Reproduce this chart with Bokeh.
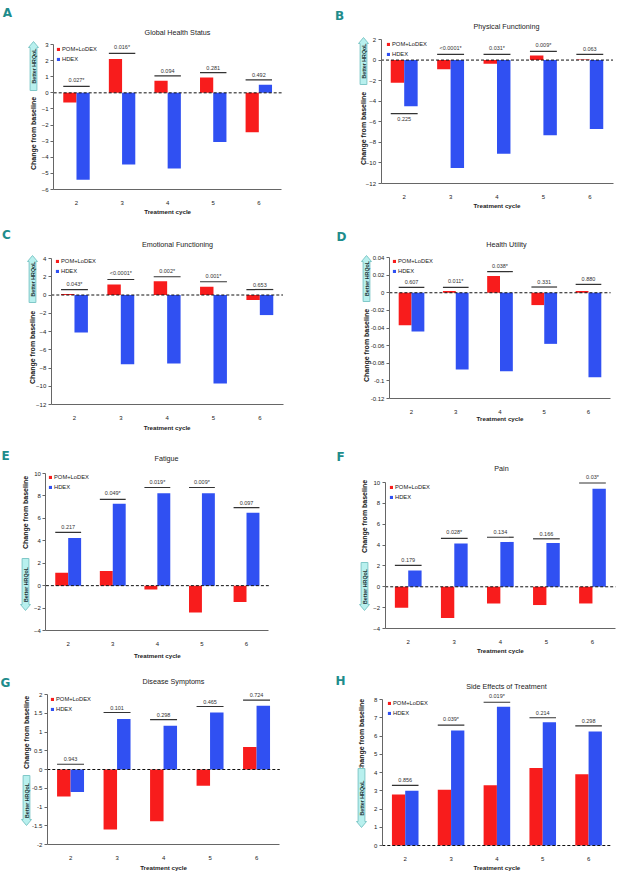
import math
from bokeh.plotting import figure
from bokeh.models import (Range1d, ColumnDataSource, Legend, LegendItem, FixedTicker, LinearAxis)
from bokeh.layouts import column, row
from bokeh.transform import dodge
from bokeh.core.properties import value
from bokeh.embed import file_html
from bokeh.resources import INLINE

# ---------------- data ----------------
cycles = ["2", "3", "4", "5", "6"]
series_names = ["POM+LoDEX", "HDEX"]

titles = ["Global Health Status", "Physical Functioning", "Emotional Functioning",
          "Health Utility", "Fatigue", "Pain", "Disease Symptoms",
          "Side Effects of Treatment"]

pom_A = [-0.6, 2.1, 0.75, 0.95, -2.45]
hdex_A = [-5.4, -4.45, -4.7, -3.05, 0.5]
pval_A = ["0.027*", "0.016*", "0.094", "0.281", "0.492"]
pval_y_A = [0.4, 2.45, 1.05, 1.25, 0.8]

pom_B = [-2.2, -0.9, -0.35, 0.45, 0.05]
hdex_B = [-4.5, -10.5, -9.1, -7.3, -6.7]
pval_B = ["0.225", "<0.0001*", "0.031*", "0.009*", "0.063"]
pval_y_B = [-5.2, 0.55, 0.55, 0.85, 0.55]
pval_below_B = [True, False, False, False, False]

pom_C = [0.1, 1.15, 1.5, 0.9, -0.55]
hdex_C = [-4.1, -7.6, -7.5, -9.7, -2.2]
pval_C = ["0.043*", "<0.0001*", "0.002*", "0.001*", "0.653"]
pval_y_C = [0.6, 1.7, 2.0, 1.45, 0.6]

pom_D = [-0.037, 0.002, 0.019, -0.014, 0.002]
hdex_D = [-0.044, -0.087, -0.089, -0.058, -0.096]
pval_D = ["0.607", "0.011*", "0.038*", "0.331", "0.880"]
pval_y_D = [0.006, 0.006, 0.024, 0.0065, 0.0095]

pom_E = [1.15, 1.3, -0.35, -2.4, -1.45]
hdex_E = [4.25, 7.3, 8.25, 8.25, 6.5]
pval_E = ["0.217", "0.049*", "0.019*", "0.009*", "0.097"]
pval_y_E = [4.75, 7.7, 8.75, 8.75, 6.95]

pom_F = [-2.0, -3.0, -1.6, -1.75, -1.6]
hdex_F = [1.55, 4.15, 4.3, 4.2, 9.4]
pval_F = ["0.179", "0.028*", "0.134", "0.166", "0.03*"]
pval_y_F = [2.05, 4.65, 4.75, 4.6, 9.95]

pom_G = [-0.72, -1.6, -1.38, -0.43, 0.6]
hdex_G = [-0.6, 1.35, 1.17, 1.52, 1.7]
pval_G = ["0.943", "0.101", "0.298", "0.465", "0.724"]
pval_y_G = [0.14, 1.52, 1.33, 1.68, 1.85]

pom_H = [2.8, 3.05, 3.3, 4.25, 3.9]
hdex_H = [3.0, 6.3, 7.6, 6.75, 6.25]
pval_H = ["0.856", "0.039*", "0.019*", "0.214", "0.298"]
pval_y_H = [3.3, 6.6, 7.85, 7.0, 6.55]

ticks_A = [-6, -5, -4, -3, -2, -1, 0, 1, 2, 3]
ticks_B = [-12, -10, -8, -6, -4, -2, 0, 2]
ticks_C = [-12, -10, -8, -6, -4, -2, 0, 2, 4]
ticks_D = [-0.12, -0.1, -0.08, -0.06, -0.04, -0.02, 0, 0.02, 0.04]
tick_labels_D = ["-0.12", "-0.1", "-0.08", "-0.06", "-0.04", "-0.02", "0", "0.02", "0.04"]
ticks_E = [-4, -2, 0, 2, 4, 6, 8, 10]
ticks_F = [-4, -2, 0, 2, 4, 6, 8, 10]
ticks_G = [-2, -1.5, -1, -0.5, 0, 0.5, 1, 1.5, 2]
tick_labels_G = ["-2", "-1.5", "-1", "-0.5", "0", "0.5", "1", "1.5", "2"]
ticks_H = [0, 1, 2, 3, 4, 5, 6, 7, 8]

y_axis_label = "Change from baseline"
x_axis_label = "Treatment cycle"
better_label = "Better HRQoL"

# ---------------- styling / layout ----------------
FONT = "Liberation Sans"
RED = "#f81c1c"
BLUE = "#3050f2"
TEAL = "#1e8c8c"
ARROW_FILL = "#b8f0ee"
ARROW_LINE = "#80c8c8"
AXIS = "#666666"
BAR_W = 0.29

# page geometry (pixels): figure box, plot-area box, and decoration anchors
layout = {
    "A": dict(ox=0, oy=0, W=312, H=220, fl=53.2, ft=44, fr=281.1, fb=189, leg=(56, 49), xl=22,
              arrow=(33, 41, 90, "up"), ylab=(33, 133), letter=(7, 12), title=(177, 32)),
    "B": dict(ox=312, oy=0, W=312, H=220, fl=380.5, ft=39, fr=612.5, fb=183, leg=(386, 44), xl=22,
              arrow=(363, 37, 84, "up"), ylab=(363, 128), letter=(339, 15), title=(506, 26)),
    "C": dict(ox=0, oy=220, W=312, H=220, fl=50.8, ft=258, fr=282.5, fb=404, leg=(55, 261), xl=23,
              arrow=(32, 255, 302, "up"), ylab=(32, 347), letter=(6, 234), title=(177, 244)),
    "D": dict(ox=312, oy=220, W=312, H=220, fl=388.9, ft=257, fr=610.1, fb=398, leg=(392, 261), xl=20,
              arrow=(366, 255, 301, "up"), ylab=(366, 345), letter=(341, 236), title=(506, 244)),
    "E": dict(ox=0, oy=440, W=312, H=224, fl=45.4, ft=473, fr=268.3, fb=630, leg=(48, 477), xl=25,
              arrow=(25, 558, 610, "down"), ylab=(25, 512), letter=(5, 455), title=(166, 458)),
    "F": dict(ox=312, oy=440, W=312, H=224, fl=384.7, ft=482, fr=615, fb=628, leg=(389, 487), xl=22,
              arrow=(364, 562, 610, "down"), ylab=(364, 516), letter=(340, 456), title=(501, 468)),
    "G": dict(ox=0, oy=664, W=312, H=212, fl=46.8, ft=694, fr=279.3, fb=844, leg=(50, 699), xl=23,
              arrow=(26, 775, 825, "down"), ylab=(26, 732), letter=(5, 682), title=(173, 681)),
    "H": dict(ox=312, oy=664, W=312, H=212, fl=381.8, ft=699, fr=611, fb=845, leg=(387, 703), xl=22,
              arrow=(361, 768, 827, "down"), ylab=(361, 735), letter=(340, 680), title=(506, 686)),
}


def make_panel(key, title, pom, hdex, pvals, pval_y, ticks, tick_labels=None,
               below=None, zero_is_axis=False):
    L = layout[key]
    xpos = list(range(1, len(cycles) + 1))
    x_lo, x_hi = xpos[0] - 0.5, xpos[-1] + 0.5
    y_lo, y_hi = min(ticks), max(ticks)
    kx = (x_hi - x_lo) / (L["fr"] - L["fl"])
    ky = (y_hi - y_lo) / (L["fb"] - L["ft"])

    def X(px):
        return x_lo + (px - L["fl"]) * kx

    def Y(py):
        return y_lo + (L["fb"] - py) * ky

    p = figure(width=L["W"], height=L["H"],
               x_range=Range1d(X(L["ox"]), X(L["ox"] + L["W"])),
               y_range=Range1d(Y(L["oy"] + L["H"]), Y(L["oy"])),
               x_axis_type=None, y_axis_type=None, min_border=0,
               output_backend="svg", toolbar_location=None, title=None)
    p.outline_line_color = None
    p.grid.visible = False
    p.background_fill_color = "white"
    p.border_fill_color = "white"

    # axes pinned to the plot area
    yax = LinearAxis(fixed_location=x_lo, bounds=(y_lo, y_hi), ticker=FixedTicker(ticks=ticks))
    if tick_labels is not None:
        yax.major_label_overrides = {t: s for t, s in zip(ticks, tick_labels)}
    xax = LinearAxis(fixed_location=y_lo, bounds=(x_lo, x_hi), ticker=FixedTicker(ticks=xpos),
                     major_label_overrides={x: c for x, c in zip(xpos, cycles)})
    for ax in (xax, yax):
        ax.axis_line_color = AXIS
        ax.major_tick_line_color = AXIS
        ax.minor_tick_line_color = None
        ax.major_label_text_font = FONT
        ax.major_label_text_font_size = "6px"
        ax.major_label_text_color = "#222222"
    yax.major_tick_out = 3
    yax.major_tick_in = 0
    yax.major_label_standoff = 2
    xax.major_tick_line_color = None
    xax.major_label_standoff = 5
    if zero_is_axis:
        xax.axis_line_color = None
    p.add_layout(yax, "left")
    p.add_layout(xax, "below")

    src = ColumnDataSource(dict(x=xpos, pom=pom, hdex=hdex, pv=pvals, py=pval_y))
    r1 = p.vbar(x=dodge("x", -BAR_W / 2), top="pom", bottom=0, width=BAR_W, source=src,
                fill_color=RED, line_color=None)
    r2 = p.vbar(x=dodge("x", BAR_W / 2), top="hdex", bottom=0, width=BAR_W, source=src,
                fill_color=BLUE, line_color=None)

    # dashed zero line across the plot area
    p.segment(x0=[x_lo], x1=[x_hi], y0=[0], y1=[0], line_color="#111111",
              line_dash="3 2", line_width=1)

    # p-value brackets and labels
    p.segment(x0=dodge("x", -BAR_W), x1=dodge("x", BAR_W), y0="py", y1="py", source=src,
              line_color="#333333", line_width=1.2)
    if below is None:
        below = [False] * len(cycles)
    for flag, base, off in ((False, "bottom", -3), (True, "top", 3)):
        idx = [i for i, b in enumerate(below) if b == flag]
        if not idx:
            continue
        s2 = ColumnDataSource(dict(x=[xpos[i] for i in idx], pv=[pvals[i] for i in idx],
                                   py=[pval_y[i] for i in idx]))
        p.text(x="x", y="py", text="pv", source=s2, text_align="center",
               text_baseline=base, y_offset=off, text_font=value(FONT),
               text_font_size="5.5px", text_color="#333333")

    # legend (bottom-left corner given in screen px from the figure's bottom-left)
    lx, ly = L["leg"]
    legend = Legend(items=[LegendItem(label=series_names[0], renderers=[r1]),
                           LegendItem(label=series_names[1], renderers=[r2])],
                    location=(lx - L["ox"], (L["oy"] + L["H"]) - (ly - 4 + 18)),
                    margin=0, padding=0, spacing=2,
                    glyph_width=4, glyph_height=4, label_height=8, label_standoff=2,
                    label_text_font=FONT, label_text_font_size="5.8px",
                    label_text_color="#222222",
                    background_fill_alpha=0, border_line_color=None)
    p.add_layout(legend)

    # title, panel letter, axis titles
    tx, ty = L["title"]
    p.text(x=[X(tx)], y=[Y(ty)], text=[title], text_align="center", text_baseline="middle",
           text_font=value(FONT), text_font_size="7.2px", text_color="#222222")
    lx2, ly2 = L["letter"]
    p.text(x=[X(lx2)], y=[Y(ly2)], text=[key], text_align="center", text_baseline="middle",
           text_font=value("DejaVu Sans"), text_font_size="12px", text_font_style="bold",
           text_color=TEAL)
    yx, yy = L["ylab"]
    p.text(x=[X(yx)], y=[Y(yy)], text=[y_axis_label], angle=math.pi / 2,
           text_align="center", text_baseline="middle", text_font=value(FONT),
           text_font_size="7px", text_font_style="bold", text_color="#111111")
    p.text(x=[X((L["fl"] + L["fr"]) / 2)], y=[Y(L["fb"] + L["xl"])], text=[x_axis_label],
           text_align="center", text_baseline="middle", text_font=value(FONT),
           text_font_size="6.2px", text_font_style="bold", text_color="#222222")

    # "Better HRQoL" arrow
    cx, y_a, y_b, direction = L["arrow"]
    hw, bw, hh = 5, 3.4, 6
    if direction == "up":
        tip, base_y, neck = y_a, y_b, y_a + hh
    else:
        tip, base_y, neck = y_b, y_a, y_b - hh
    axs = [cx, cx + hw, cx + bw, cx + bw, cx - bw, cx - bw, cx - hw]
    ays = [tip, neck, neck, base_y, base_y, neck, neck]
    p.patch(x=[X(v) for v in axs], y=[Y(v) for v in ays], fill_color=ARROW_FILL,
            line_color=ARROW_LINE, line_width=1)
    p.text(x=[X(cx)], y=[Y((y_a + y_b) / 2)], text=[better_label], angle=math.pi / 2,
           text_align="center", text_baseline="middle", text_font=value(FONT),
           text_font_size="5.3px", text_font_style="bold", text_color="#223333")
    return p


pA = make_panel("A", titles[0], pom_A, hdex_A, pval_A, pval_y_A, ticks_A)
pB = make_panel("B", titles[1], pom_B, hdex_B, pval_B, pval_y_B, ticks_B, below=pval_below_B)
pC = make_panel("C", titles[2], pom_C, hdex_C, pval_C, pval_y_C, ticks_C)
pD = make_panel("D", titles[3], pom_D, hdex_D, pval_D, pval_y_D, ticks_D, tick_labels_D)
pE = make_panel("E", titles[4], pom_E, hdex_E, pval_E, pval_y_E, ticks_E)
pF = make_panel("F", titles[5], pom_F, hdex_F, pval_F, pval_y_F, ticks_F)
pG = make_panel("G", titles[6], pom_G, hdex_G, pval_G, pval_y_G, ticks_G, tick_labels_G)
pH = make_panel("H", titles[7], pom_H, hdex_H, pval_H, pval_y_H, ticks_H, zero_is_axis=True)

page = column(row(pA, pB), row(pC, pD), row(pE, pF), row(pG, pH))
open("out.html", "w").write(file_html(page, INLINE))
